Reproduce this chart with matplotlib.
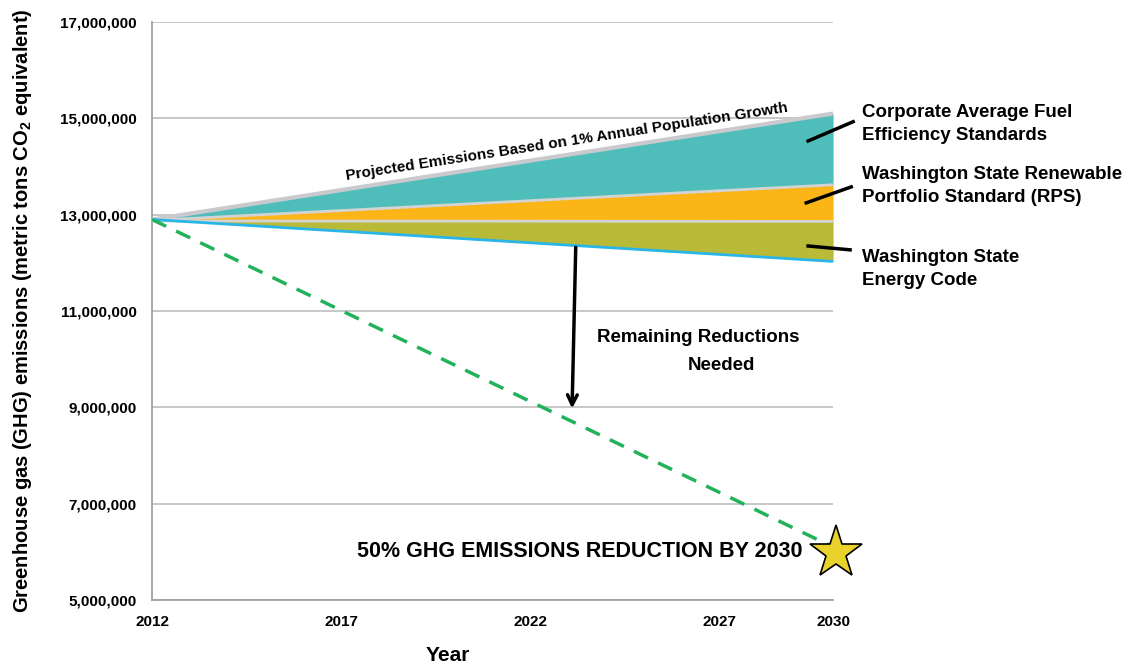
import numpy as np
import matplotlib
matplotlib.use('Agg')
import matplotlib.pyplot as plt

# values
years = [2012, 2030]
projected = [12.90e6, 15.10e6]      # 1% annual population growth
after_cafe = [12.88e6, 13.62e6]     # after Corporate Average Fuel Efficiency
after_rps = [12.87e6, 12.86e6]      # after Washington State RPS
after_code = [12.90e6, 12.03e6]     # after Washington State Energy Code
target = [12.90e6, 6.10e6]          # 50% reduction path
xtick_years = [2012, 2017, 2022, 2027, 2030]
ytick_values = [5e6, 7e6, 9e6, 11e6, 13e6, 15e6, 17e6]

plt.rcParams['font.family'] = ['Liberation Sans', 'DejaVu Sans']
plt.rcParams['font.weight'] = 'bold'
plt.rcParams['mathtext.fontset'] = 'custom'
plt.rcParams['mathtext.rm'] = 'Liberation Sans:bold'
plt.rcParams['mathtext.bf'] = 'Liberation Sans:bold'

fig = plt.figure(figsize=(11.37, 6.69), dpi=100)
ax = fig.add_axes([0.1337, 0.1031, 0.599, 0.864])

# wedges
ax.fill_between(years, after_cafe, projected, color='#4FBDBA', lw=0, zorder=2)
ax.fill_between(years, after_rps, after_cafe, color='#FBB517', lw=0, zorder=2)
ax.fill_between(years, after_code, after_rps, color='#B9BA38', lw=0, zorder=2)

ax.plot(years, projected, color='#C9C9CE', lw=3, zorder=3)
ax.plot(years, after_cafe, color='#D3D3D3', lw=2, zorder=3)
ax.plot(years, after_rps, color='#D3D3D3', lw=2, zorder=3)
ax.plot(years, after_code, color='#29B5E8', lw=2, zorder=3)
ax.plot(years, target, color='#22B25A', lw=2.5, ls=(0, (4.5, 3.2)), zorder=3)

ax.plot([2030.08], [5.98e6], marker='*', markersize=40, color='#E9D22C',
        markeredgecolor='black', markeredgewidth=1.2, clip_on=False, zorder=5)

ax.set_xlim(2012, 2030)
ax.set_ylim(5e6, 17e6)
ax.set_xticks(xtick_years)
ax.set_xticklabels([str(y) for y in xtick_years], fontsize=11, fontweight='bold')
ax.set_yticks(ytick_values)
ax.set_yticklabels(['{:,.0f}'.format(v) for v in ytick_values], fontsize=11, fontweight='bold')
ax.tick_params(length=0, pad=11)
ax.tick_params(axis='y', pad=11)
ax.grid(axis='y', color='#BDBDBD', lw=1.2)
ax.set_axisbelow(True)
for s in ['top', 'right']:
    ax.spines[s].set_visible(False)
for s in ['left', 'bottom']:
    ax.spines[s].set_color('#A0A0A0')
    ax.spines[s].set_linewidth(1.3)

ax.set_xlabel('Year', fontsize=15, fontweight='bold')
ax.xaxis.set_label_coords(0.435, -0.08)
ax.set_ylabel(r'Greenhouse gas (GHG) emissions (metric tons CO$_2$ equivalent)',
              fontsize=14.5, fontweight='bold')
ax.yaxis.set_label_coords(-0.174, 0.5)

ax.text(2023.0, 14.37e6, 'Projected Emissions Based on 1% Annual Population Growth',
        rotation=8.8, rotation_mode='anchor', fontsize=11, fontweight='bold',
        ha='center', va='bottom')

labels = [('Corporate Average Fuel\nEfficiency Standards', 14.88e6, (2029.34, 14.53e6), (2030.53, 14.93e6)),
          ('Washington State Renewable\nPortfolio Standard (RPS)', 13.6e6, (2029.29, 13.245e6), (2030.48, 13.577e6)),
          ('Washington State\nEnergy Code', 11.88e6, (2029.34, 12.35e6), (2030.45, 12.27e6))]
for text, ty, p0, p1 in labels:
    ax.text(2030.77, ty, text, fontsize=13.5, fontweight='bold', ha='left', va='center',
            linespacing=1.45, clip_on=False)
    ax.plot([p0[0], p1[0]], [p0[1], p1[1]], color='black', lw=2.5, clip_on=False, zorder=6)

ax.annotate('', xy=(2023.1, 8.92e6), xytext=(2023.2, 12.38e6),
            arrowprops=dict(arrowstyle='->,head_length=0.7,head_width=0.35', color='black', lw=2.5))
ax.text(2026.43, 10.44e6, 'Remaining Reductions', fontsize=13.5, fontweight='bold', ha='center', va='center')
ax.text(2027.04, 9.86e6, 'Needed', fontsize=13.5, fontweight='bold', ha='center', va='center')

ax.text(2029.2, 6.0e6, '50% GHG EMISSIONS REDUCTION BY 2030', fontsize=15.5,
        fontweight='bold', ha='right', va='center')

fig.savefig('out.png', dpi=100)
